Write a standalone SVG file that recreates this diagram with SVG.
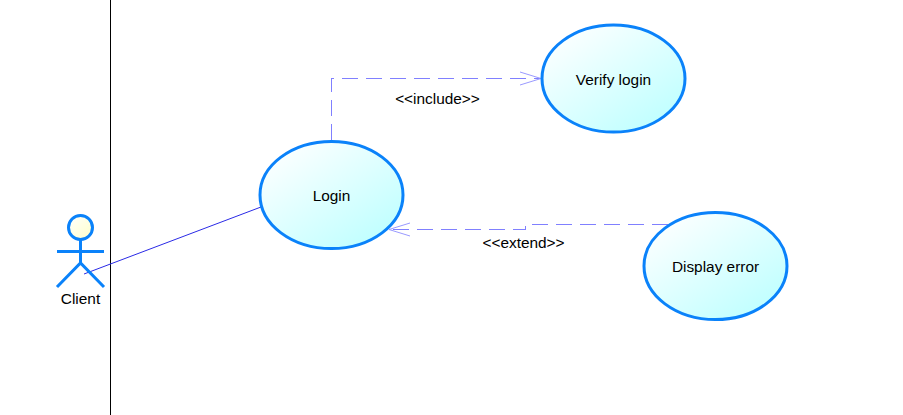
<svg xmlns="http://www.w3.org/2000/svg" width="903" height="415" viewBox="0 0 903 415">
<style>
text{font-family:"Liberation Sans",Arial,sans-serif;font-size:15.4px;fill:#000;text-anchor:middle}
.uc{fill:url(#g);stroke:#0a82fa;stroke-width:3}
.act{fill:none;stroke:#0a82fa;stroke-width:3}
.dash{fill:none;stroke:#8080ff;stroke-width:1;stroke-dasharray:16 8;shape-rendering:crispEdges}
.head{fill:none;stroke:#9a9aff;stroke-width:1}
</style>
<defs>
<linearGradient id="g" x1="0.1" y1="0.05" x2="0.9" y2="0.95"><stop offset="0" stop-color="#fff"/><stop offset="1" stop-color="#bcffff"/></linearGradient>
<linearGradient id="h" x1="0" y1="0" x2="1" y2="1"><stop offset="0" stop-color="#fff"/><stop offset="1" stop-color="#ffffc8"/></linearGradient>
</defs>
<rect width="903" height="415" fill="#fff"/>
<line x1="110.500" y1="0" x2="110.500" y2="415" stroke="#000" stroke-width="1"/>
<g id="connectors">
<line x1="84" y1="274" x2="261" y2="207" stroke="#2a2ae6" stroke-width="1"/>
<path class="dash" d="M331.500 140V78.500H540"/>
<path class="head" d="M520 72L541 78.500L520 85"/>
<path class="dash" d="M668 224.500H525.500V229.500H390"/>
<path class="head" d="M410 223L389 229.500L410 236"/>
</g>
<g id="actor-client">
<circle cx="80.500" cy="227.500" r="12" fill="url(#h)" stroke="#0a82fa" stroke-width="3"/>
<path class="act" d="M80.500 240V263M57 251.500H104M57 287L80.500 263L104 287"/>
<text x="80.500" y="304">Client</text>
</g>
<g id="uc-login">
<ellipse class="uc" cx="331.500" cy="195" rx="71.500" ry="53.500"/>
<text x="331.500" y="200.500">Login</text>
</g>
<g id="uc-verify">
<ellipse class="uc" cx="613.500" cy="78.500" rx="71.500" ry="53.500"/>
<text x="613.500" y="84.500">Verify login</text>
</g>
<g id="uc-display">
<ellipse class="uc" cx="715.500" cy="266" rx="71.500" ry="53.500"/>
<text x="715.500" y="272">Display error</text>
</g>
<text x="437.500" y="104">&lt;&lt;include&gt;&gt;</text>
<text x="523.500" y="248">&lt;&lt;extend&gt;&gt;</text>
</svg>
